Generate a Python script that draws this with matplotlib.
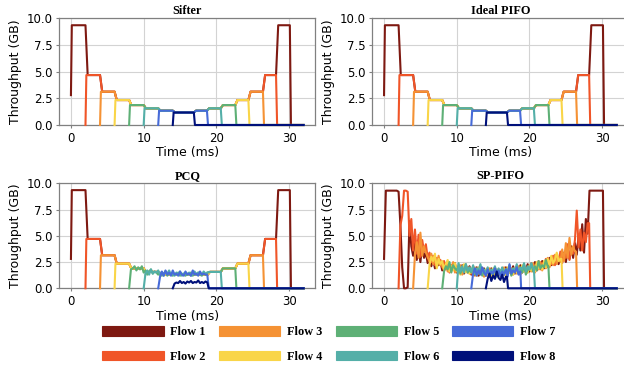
import matplotlib
matplotlib.use("Agg")
import matplotlib.pyplot as plt
from matplotlib.patches import Patch
from matplotlib.font_manager import FontProperties

flows = ["Flow 1", "Flow 2", "Flow 3", "Flow 4", "Flow 5", "Flow 6", "Flow 7", "Flow 8"]
colors = ["#7e1911", "#f05528", "#f59234", "#f9d548", "#5eb076", "#54afa8", "#476bd8", "#00107a"]
titles = ["Sifter", "Ideal PIFO", "PCQ", "SP-PIFO"]

# flow start / end times (ms)
starts = [0, 2, 4, 6, 8, 10, 12, 14]
ends = [30.1, 28.2, 26.4, 24.4, 22.6, 20.6, 18.7, 16.9]
pcq_ends = [30.1, 28.2, 26.4, 24.4, 22.6, 20.6, 18.8, 18.8]
t_end = 32

# throughput plateau (GB) when n flows are active
ideal_levels = [9.35, 4.68, 3.12, 2.34, 1.87, 1.56, 1.34, 1.17]
pcq_levels = [9.35, 4.7, 3.15, 2.35, 1.9, 1.56, 1.3, 1.3]
first_sample = 2.8

# PCQ noisy part (0.25 ms samples from flow start up to 18.75 ms)
pcq_noisy = {
    4: [0.0, 1.8, 1.9, 2.1, 1.7, 2.0, 1.8, 2.1,
        1.5, 1.7, 1.3, 1.6, 1.8, 1.4, 1.6, 1.5,
        1.3, 1.5, 1.2, 1.4, 1.6, 1.2, 1.4, 1.3,
        1.2, 1.4, 1.3, 1.5, 1.2, 1.4, 1.3, 1.2,
        1.4, 1.3, 1.5, 1.2, 1.4, 1.3, 1.5, 1.3,
        1.2, 1.4, 1.3, 1.5],
    5: [0.0, 1.4, 1.7, 1.3, 1.8, 1.4, 1.6, 1.5,
        1.7, 1.3, 1.5, 1.2, 1.6, 1.4, 1.7, 1.3,
        1.4, 1.2, 1.5, 1.3, 1.6, 1.2, 1.4, 1.5,
        1.3, 1.5, 1.2, 1.4, 1.6, 1.3, 1.5, 1.4,
        1.3, 1.6, 1.4, 1.5],
    6: [0.0, 1.1, 1.6, 1.2, 1.7, 1.3, 1.5, 1.2,
        1.7, 1.3, 1.4, 1.2, 1.6, 1.3, 1.2, 1.6,
        1.3, 1.4, 1.2, 1.7, 1.3, 1.4, 1.2, 1.6,
        1.3, 1.4, 1.3, 1.3],
    7: [0.0, 0.45, 0.55, 0.5, 0.7, 0.5, 0.6, 0.45, 0.65, 0.55,
        0.7, 0.5, 0.6, 0.55, 0.75, 0.5, 0.6, 0.5, 0.65, 0.55],
}
pcq_noisy_end = 18.8

# SP-PIFO throughput, 0.25 ms samples from each flow's start
sp_values = [
    [2.8, 9.3, 9.3, 9.3, 9.3, 9.3, 9.3, 9.3,
     9.2, 6.0, 2.0, 0.0, 0.0, 0.1, 6.4, 4.0,
     3.1, 4.6, 2.7, 3.8, 2.5, 4.1, 2.9, 3.4,
     2.4, 3.0, 2.1, 2.8, 1.9, 2.5, 2.2, 2.6,
     1.7, 2.3, 1.9, 2.5, 1.6, 2.1, 1.8, 2.4,
     1.5, 2.0, 1.7, 2.2, 1.4, 1.9, 1.6, 2.1,
     1.3, 1.8, 1.5, 2.0, 1.2, 1.7, 1.4, 1.9,
     1.2, 1.6, 1.4, 1.9, 1.1, 1.7, 1.3, 1.8,
     1.2, 1.7, 1.4, 2.0, 1.3, 1.8, 1.5, 2.1,
     1.4, 1.9, 1.6, 2.2, 1.5, 2.0, 1.7, 2.3,
     1.6, 2.1, 1.8, 2.5, 1.7, 2.3, 1.9, 2.6,
     1.9, 2.6, 2.1, 2.9, 2.2, 2.7, 2.4, 3.1,
     2.3, 3.0, 2.6, 3.4, 2.5, 3.6, 2.8, 4.0,
     2.9, 4.3, 3.2, 5.0, 3.6, 6.1, 3.4, 6.6,
     5.2, 9.3, 9.3, 9.3, 9.3, 9.3, 9.3, 9.3],
    [0.0, 6.0, 6.9, 9.3, 9.3, 9.2, 5.0, 6.6,
     3.6, 5.6, 3.3, 5.1, 3.0, 4.6, 3.5, 4.2,
     2.9, 3.4, 2.5, 3.1, 2.2, 2.9, 2.4, 2.7,
     2.0, 2.6, 1.8, 2.3, 1.5, 2.2, 1.9, 2.0,
     1.6, 2.1, 1.4, 1.9, 1.7, 2.2, 1.5, 1.8,
     1.4, 1.9, 1.2, 1.8, 1.5, 2.0, 1.3, 1.7,
     1.3, 1.8, 1.1, 1.6, 1.4, 1.9, 1.2, 1.7,
     1.4, 1.9, 1.3, 1.8, 1.6, 2.0, 1.4, 1.9,
     1.5, 2.1, 1.4, 1.9, 1.7, 2.2, 1.6, 2.0,
     1.8, 2.4, 1.6, 2.2, 2.0, 2.6, 1.8, 2.4,
     2.1, 2.8, 2.0, 2.6, 2.3, 3.1, 2.2, 2.9,
     2.6, 3.5, 2.4, 3.3, 2.9, 4.2, 2.7, 3.8,
     3.3, 4.6, 7.4, 3.9, 5.6, 3.6, 5.3, 4.4,
     6.2],
    [0.0, 3.2, 4.4, 2.9, 5.3, 3.1, 4.0, 3.4,
     3.0, 2.5, 3.3, 2.3, 2.8, 2.0, 3.1, 2.2,
     2.2, 1.7, 2.4, 1.6, 2.1, 1.9, 2.5, 1.5,
     1.9, 1.5, 2.2, 1.3, 1.8, 1.6, 2.0, 1.4,
     1.7, 1.3, 2.0, 1.2, 1.6, 1.4, 1.9, 1.1,
     1.6, 1.2, 1.9, 1.0, 1.5, 1.3, 1.8, 1.2,
     1.7, 1.3, 2.0, 1.2, 1.6, 1.5, 1.9, 1.3,
     1.8, 1.4, 2.1, 1.3, 1.7, 1.6, 2.0, 1.5,
     2.0, 1.6, 2.4, 1.5, 2.1, 1.8, 2.5, 1.7,
     2.4, 1.9, 2.9, 2.0, 2.6, 2.2, 3.2, 2.3,
     3.0, 2.5, 3.7, 2.6, 4.3, 2.9, 4.8, 3.2,
     4.0, 3.5],
    [0.0, 2.2, 3.0, 2.6, 3.3, 1.9, 2.8, 2.3,
     2.6, 1.8, 2.3, 2.7, 1.6, 2.1, 1.7, 2.4,
     1.6, 2.0, 1.3, 1.9, 2.3, 1.5, 1.8, 1.4,
     1.9, 1.4, 1.7, 1.2, 2.0, 1.5, 1.6, 1.3,
     1.8, 1.3, 1.6, 1.1, 1.9, 1.4, 1.5, 1.2,
     1.7, 1.4, 1.8, 1.2, 2.0, 1.5, 1.6, 1.3,
     1.9, 1.5, 1.8, 1.4, 2.2, 1.6, 1.7, 1.5,
     2.2, 1.7, 2.0, 1.6, 2.5, 1.9, 2.1, 1.8,
     2.6, 2.0, 2.8, 2.2, 3.1, 2.4, 2.7, 3.4,
     2.6, 2.8],
    [0.0, 1.6, 2.1, 1.8, 2.5, 1.5, 2.2, 1.9,
     1.7, 2.2, 1.4, 1.9, 1.6, 2.3, 1.5, 1.8,
     1.5, 2.0, 1.3, 1.8, 1.4, 2.1, 1.2, 1.7,
     1.4, 1.9, 1.2, 1.6, 1.3, 2.0, 1.1, 1.7,
     1.5, 1.9, 1.3, 1.8, 1.4, 2.1, 1.2, 1.7,
     1.6, 2.0, 1.4, 1.9, 1.5, 2.2, 1.3, 1.8,
     1.8, 2.3, 1.6, 2.1, 1.7, 2.6, 1.9, 2.2,
     2.0, 2.7, 2.1],
    [0.0, 2.4, 1.6, 2.1, 1.5, 2.3, 1.7, 2.0,
     1.6, 2.2, 1.4, 1.9, 1.7, 2.3, 1.5, 1.8,
     1.5, 2.0, 1.3, 1.8, 1.6, 2.1, 1.4, 1.9,
     1.5, 2.0, 1.4, 1.8, 1.6, 2.2, 1.5, 1.9,
     1.7, 2.3, 1.5, 2.0, 1.8, 2.4, 1.6, 2.1,
     1.8, 2.4, 1.9],
    [0.0, 1.4, 1.9, 1.2, 1.7, 1.3, 2.0, 1.5,
     1.2, 1.8, 1.1, 1.6, 1.4, 1.9, 1.3, 1.7,
     1.2, 1.6, 1.3, 1.8, 1.1, 2.3, 1.4, 1.7,
     1.5, 2.0, 1.3, 1.6],
    [0.0, 0.9, 1.4, 0.7, 1.2, 0.9, 1.6, 1.0, 0.8, 1.3, 0.6, 1.1],
]
dt = 0.25


def share_curve(i, levels, fin, ramp=0.3):
    s, e = starts[i], fin[i]
    cuts = sorted(set(b for b in starts + fin if s < b < e))
    t = [s]
    v = [first_sample if i == 0 else 0.0]
    lo = s
    for hi in cuts + [e]:
        mid = (lo + hi) / 2
        n = sum(1 for a, b in zip(starts, fin) if a <= mid < b)
        lvl = levels[n - 1]
        t += [lo + (0.12 if lo == s else ramp), hi]
        v += [lvl, lvl]
        lo = hi
    t += [e + 0.15, t_end]
    v += [0.0, 0.0]
    return t, v


def sampled_curve(t0, vals, e):
    t = [t0 + dt * k for k in range(len(vals))]
    v = list(vals)
    if e > t[-1]:
        t.append(e)
        v.append(v[-1])
    t += [e + 0.15, t_end]
    v += [0.0, 0.0]
    return t, v


fig = plt.figure(figsize=(6.24, 3.7), dpi=100)
W, H = 624, 370
boxes = [(59.3, 18.3, 256, 106.7), (372.4, 18.3, 256, 106.7),
         (59.3, 183.3, 256, 105), (372.4, 183.3, 256, 105)]
axes = [fig.add_axes([x / W, 1 - (y + h) / H, w / W, h / H]) for x, y, w, h in boxes]

for k, ax in enumerate(axes):
    for i in range(8):
        if k < 2:
            t, v = share_curve(i, ideal_levels, ends)
        elif k == 2:
            t, v = share_curve(i, pcq_levels, pcq_ends)
            if i in pcq_noisy:
                vals = pcq_noisy[i]
                tn = [starts[i] + dt * j for j in range(len(vals))]
                rest = [(a, b) for a, b in zip(t, v) if a > pcq_noisy_end]
                t = tn + [a for a, b in rest]
                v = vals + [b for a, b in rest]
        else:
            t, v = sampled_curve(starts[i], sp_values[i], ends[i])
        ax.plot(t, v, color=colors[i], lw=1.5, clip_on=False, zorder=3 + i)

    ax.set_xlim(-1.6, 33.6)
    ax.set_ylim(0, 10)
    ax.set_xticks([0, 10, 20, 30])
    ax.set_yticks([0, 2.5, 5, 7.5, 10])
    ax.grid(True, color="#d3d3d3", lw=0.8)
    ax.set_axisbelow(True)
    for sp in ax.spines.values():
        sp.set_color("#808080")
        sp.set_linewidth(0.9)
    ax.tick_params(labelsize=8.5, length=2.5, width=0.8, color="#808080", pad=2.5)
    ax.set_xlabel("Time (ms)", fontsize=9, labelpad=1)
    ax.set_ylabel("Throughput (GB)", fontsize=9, labelpad=3)
    ax.set_title(titles[k], fontsize=8.8, fontweight="bold", family="Liberation Serif", pad=3)

handles = [Patch(facecolor=c, edgecolor=c, alpha=1.0, lw=0.8) for c in colors]
fig.legend(handles, flows, loc="center", bbox_to_anchor=(329 / W, 1 - 344.5 / H), ncol=4,
           frameon=False, handlelength=5.0, handleheight=0.85, handletextpad=0.55,
           columnspacing=1.1, labelspacing=1.0, borderpad=0,
           prop=FontProperties(family="Liberation Serif", weight="bold", size=8.8))

fig.savefig("out.png", dpi=100)
